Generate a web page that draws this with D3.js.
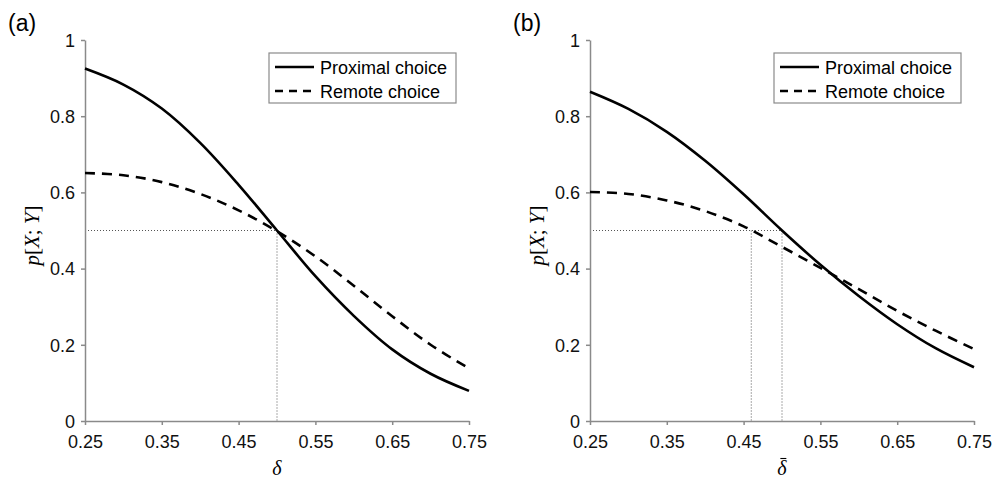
<!DOCTYPE html>
<html><head><meta charset="utf-8">
<script src="https://cdn.jsdelivr.net/npm/d3@7"></script>
<style>body{margin:0;background:#fff}</style>
</head><body>
<svg id="c" width="997" height="480"></svg>
<script>
const deltas = [0.25,0.30,0.35,0.40,0.45,0.50,0.55,0.60,0.65,0.70,0.75];
const proximalA = [0.925,0.883,0.820,0.730,0.620,0.500,0.380,0.276,0.188,0.124,0.079];
const remoteA   = [0.651,0.645,0.627,0.596,0.553,0.498,0.432,0.355,0.275,0.200,0.138];
const proximalB = [0.864,0.819,0.759,0.683,0.595,0.500,0.410,0.328,0.254,0.191,0.141];
const remoteB   = [0.601,0.596,0.579,0.551,0.511,0.457,0.402,0.346,0.289,0.237,0.189];
const xTicks = [0.25,0.35,0.45,0.55,0.65,0.75];
const yTicks = [0,0.2,0.4,0.6,0.8,1];
const seriesNames = ["Proximal choice","Remote choice"];
const panelLabels = ["(a)","(b)"];
const xLabels = ["δ","δ"];
const xLabelBar = [false,true];
const markersA = [0.5];
const markersB = [0.46,0.5];
const threshold = 0.5;

const svg = d3.select("#c");
const panels = [
  {left:85, prox:proximalA, rem:remoteA, label:panelLabels[0], xl:xLabels[0], bar:xLabelBar[0], marks:markersA},
  {left:590, prox:proximalB, rem:remoteB, label:panelLabels[1], xl:xLabels[1], bar:xLabelBar[1], marks:markersB}
];
const W = 384, plotTop = 40, plotBottom = 421;
const axisColor = "#8a8a8a";

panels.forEach(p => {
  const x = d3.scaleLinear().domain([0.25,0.75]).range([p.left, p.left+W]);
  const y = d3.scaleLinear().domain([0,1]).range([plotBottom, plotTop]);
  const g = svg.append("g");

  // dotted guide lines
  const gd = g.append("g").attr("stroke","#555").attr("stroke-width",1).attr("stroke-dasharray","1,2").attr("fill","none");
  gd.append("line").attr("x1",x(0.25)).attr("x2",x(d3.max(p.marks))).attr("y1",y(threshold)).attr("y2",y(threshold));
  p.marks.forEach(m => {
    gd.append("line").attr("x1",x(m)).attr("x2",x(m)).attr("y1",y(threshold)).attr("y2",y(0));
  });

  // axes
  const xa = g.append("g").attr("transform",`translate(0,${plotBottom})`)
    .call(d3.axisBottom(x).tickValues(xTicks).tickSize(4).tickSizeOuter(0).tickFormat(d3.format(".2f")));
  const ya = g.append("g").attr("transform",`translate(${p.left},0)`)
    .call(d3.axisLeft(y).tickValues(yTicks).tickSize(4).tickSizeOuter(0).tickFormat(d => d===0?"0":d===1?"1":d3.format(".1f")(d)));
  [xa,ya].forEach(a => {
    a.selectAll("path,line").attr("stroke",axisColor).attr("stroke-width",1.5);
    a.selectAll("text").attr("font-family","Liberation Sans, Arial, sans-serif").attr("font-size",18).attr("fill","#111");
  });
  xa.selectAll("text").attr("dy","0.71em").attr("y",14);
  ya.selectAll("text").attr("x",-10).attr("dy","0.35em");

  // curves
  const line = d3.line().x((d,i)=>x(deltas[i])).y(d=>y(d)).curve(d3.curveCatmullRom.alpha(0.5));
  g.append("path").attr("d",line(p.rem)).attr("fill","none").attr("stroke","#000").attr("stroke-width",2.6).attr("stroke-dasharray","10,7");
  g.append("path").attr("d",line(p.prox)).attr("fill","none").attr("stroke","#000").attr("stroke-width",2.6);

  // axis labels
  const xt = g.append("text").attr("x",p.left+W/2).attr("y",475).attr("text-anchor","middle")
    .attr("font-family","Liberation Serif, Times New Roman, serif").attr("font-style","italic").attr("font-size",20).text(p.xl);
  if (p.bar) {
    const bb = xt.node().getBBox();
    g.append("line").attr("x1",bb.x+3).attr("x2",bb.x+bb.width-1).attr("y1",bb.y+1.5).attr("y2",bb.y+1.5)
      .attr("stroke","#000").attr("stroke-width",1.1);
  }
  const yl = g.append("text").attr("transform",`translate(${p.left-46},${(plotTop+plotBottom)/2+5}) rotate(-90)`)
    .attr("text-anchor","middle").attr("font-family","Liberation Serif, Times New Roman, serif").attr("font-size",21);
  yl.append("tspan").attr("font-style","italic").text("p");
  yl.append("tspan").text("[");
  yl.append("tspan").attr("font-style","italic").text("X");
  yl.append("tspan").text("; ");
  yl.append("tspan").attr("font-style","italic").text("Y");
  yl.append("tspan").text("]");

  // panel label
  svg.append("text").attr("x",p.left-77).attr("y",31).attr("font-family","Liberation Sans, Arial, sans-serif").attr("font-size",23).text(p.label);

  // legend
  const lx = p.left+184, ly = 53;
  const lg = g.append("g");
  lg.append("rect").attr("x",lx).attr("y",ly).attr("width",187).attr("height",50).attr("fill","#fff").attr("stroke",axisColor).attr("stroke-width",1.2);
  [0,1].forEach(i => {
    const yy = ly + 14 + i*24;
    lg.append("line").attr("x1",lx+6).attr("x2",lx+45).attr("y1",yy).attr("y2",yy).attr("stroke","#000").attr("stroke-width",2.6)
      .attr("stroke-dasharray", i===1 ? "8,6" : null);
    lg.append("text").attr("x",lx+51).attr("y",yy+6.5).attr("font-family","Liberation Sans, Arial, sans-serif").attr("font-size",18).text(seriesNames[i]);
  });
});
</script>
</body></html>
